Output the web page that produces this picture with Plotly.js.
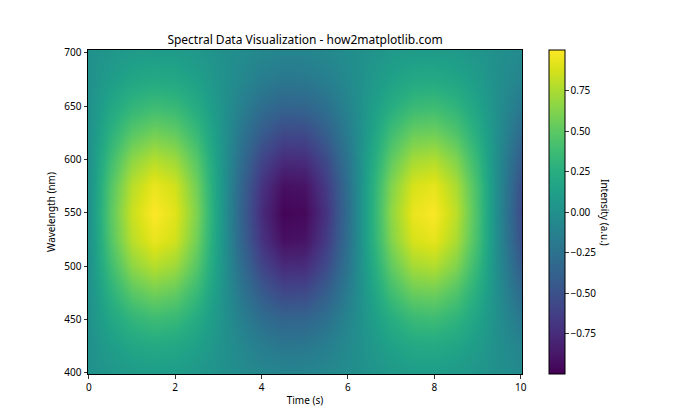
<!DOCTYPE html>
<html>
<head>
<meta charset="utf-8">
<script src="https://cdn.plot.ly/plotly-3.0.1.min.js"></script>
<style>html,body{margin:0;padding:0;background:#fff;}#chart{width:700px;height:420px;}</style>
</head>
<body>
<div id="chart"></div>
<script>
// Time (s) sample positions (cell centres)
const times = [0, 0.5, 1, 1.5, 2, 2.5, 3, 3.5, 4, 4.5, 5, 5.5, 6, 6.5, 7, 7.5, 8, 8.5, 9, 9.5, 10];
// Wavelength (nm) sample positions
const wavelengths = [400, 425, 450, 475, 500, 525, 550, 575, 600, 625, 650, 675, 700];
// Intensity (a.u.) rows, one per wavelength
const row400 = [0, 0.05, 0.09, 0.10, 0.10, 0.06, 0.01, -0.04, -0.08, -0.10, -0.10, -0.07, -0.03, 0.02, 0.07, 0.10, 0.10, 0.08, 0.04, -0.01, -0.06];
const row425 = [0, 0.10, 0.18, 0.21, 0.19, 0.13, 0.03, -0.07, -0.16, -0.21, -0.20, -0.15, -0.06, 0.05, 0.14, 0.20, 0.21, 0.17, 0.09, -0.02, -0.11];
const row450 = [0, 0.18, 0.31, 0.37, 0.34, 0.22, 0.05, -0.13, -0.28, -0.36, -0.35, -0.26, -0.10, 0.08, 0.24, 0.35, 0.37, 0.30, 0.15, -0.03, -0.20];
const row475 = [0, 0.27, 0.48, 0.57, 0.52, 0.34, 0.08, -0.20, -0.43, -0.56, -0.55, -0.40, -0.16, 0.12, 0.38, 0.54, 0.56, 0.45, 0.23, -0.04, -0.31];
const row500 = [0, 0.37, 0.66, 0.78, 0.71, 0.47, 0.11, -0.27, -0.59, -0.76, -0.75, -0.55, -0.22, 0.17, 0.51, 0.73, 0.77, 0.62, 0.32, -0.06, -0.42];
const row525 = [0, 0.45, 0.79, 0.94, 0.86, 0.56, 0.13, -0.33, -0.71, -0.92, -0.90, -0.66, -0.26, 0.21, 0.62, 0.88, 0.93, 0.75, 0.39, -0.07, -0.51];
const row550 = [0, 0.48, 0.84, 1.00, 0.91, 0.60, 0.14, -0.35, -0.76, -0.98, -0.96, -0.71, -0.28, 0.22, 0.66, 0.94, 0.99, 0.80, 0.41, -0.08, -0.54];
const row575 = [0, 0.45, 0.79, 0.94, 0.86, 0.56, 0.13, -0.33, -0.71, -0.92, -0.90, -0.66, -0.26, 0.21, 0.62, 0.88, 0.93, 0.75, 0.39, -0.07, -0.51];
const row600 = [0, 0.37, 0.66, 0.78, 0.71, 0.47, 0.11, -0.27, -0.59, -0.76, -0.75, -0.55, -0.22, 0.17, 0.51, 0.73, 0.77, 0.62, 0.32, -0.06, -0.42];
const row625 = [0, 0.27, 0.48, 0.57, 0.52, 0.34, 0.08, -0.20, -0.43, -0.56, -0.55, -0.40, -0.16, 0.12, 0.38, 0.54, 0.56, 0.45, 0.23, -0.04, -0.31];
const row650 = [0, 0.18, 0.31, 0.37, 0.34, 0.22, 0.05, -0.13, -0.28, -0.36, -0.35, -0.26, -0.10, 0.08, 0.24, 0.35, 0.37, 0.30, 0.15, -0.03, -0.20];
const row675 = [0, 0.10, 0.18, 0.21, 0.19, 0.13, 0.03, -0.07, -0.16, -0.21, -0.20, -0.15, -0.06, 0.05, 0.14, 0.20, 0.21, 0.17, 0.09, -0.02, -0.11];
const row700 = [0, 0.05, 0.09, 0.10, 0.10, 0.06, 0.01, -0.04, -0.08, -0.10, -0.10, -0.07, -0.03, 0.02, 0.07, 0.10, 0.10, 0.08, 0.04, -0.01, -0.06];
const intensity = [row400, row425, row450, row475, row500, row525, row550, row575, row600, row625, row650, row675, row700];

const xTicks = [0, 2, 4, 6, 8, 10];
const yTicks = [400, 450, 500, 550, 600, 650, 700];
const cbTicks = [-0.75, -0.5, -0.25, 0, 0.25, 0.5, 0.75];
const cbTickText = ['\u22120.75', '\u22120.50', '\u22120.25', '0.00', '0.25', '0.50', '0.75'];

const FONT = 'Noto Sans, DejaVu Sans, sans-serif';

const trace = {
  type: 'heatmap',
  x: times,
  y: wavelengths,
  z: intensity,
  colorscale: 'Viridis',
  zmin: -1,
  zmax: 1,
  zsmooth: 'best',
  hoverinfo: 'skip',
  colorbar: {
    x: (549 - 88) / 434,
    xanchor: 'left',
    xref: 'paper',
    y: 0.5,
    yanchor: 'middle',
    len: 1,
    lenmode: 'fraction',
    thickness: 16,
    thicknessmode: 'pixels',
    xpad: 0,
    ypad: 0,
    outlinewidth: 1,
    outlinecolor: '#000',
    ticks: 'outside',
    ticklen: 3.5,
    tickwidth: 0.8,
    tickcolor: '#000',
    tickvals: cbTicks,
    ticktext: cbTickText,
    tickfont: {family: FONT, size: 10, color: '#000'}
  }
};

const layout = {
  width: 700,
  height: 420,
  margin: {l: 88, r: 178, t: 50, b: 46},
  paper_bgcolor: '#fff',
  plot_bgcolor: '#fff',
  font: {family: FONT, size: 10, color: '#000'},
  title: {
    text: 'Spectral Data Visualization - how2matplotlib.com',
    font: {family: FONT, size: 12, color: '#000'},
    x: 0.5, xref: 'paper', xanchor: 'center',
    y: 1 - 40 / 420, yref: 'container', yanchor: 'middle'
  },
  xaxis: {
    range: [-0.02, 10.03],
    tickvals: xTicks,
    ticktext: xTicks.map(String),
    ticks: 'outside', ticklen: 3.5, tickwidth: 0.8, tickcolor: '#000',
    showline: true, linecolor: '#000', linewidth: 1, mirror: true,
    showgrid: false, zeroline: false,
    tickfont: {family: FONT, size: 10, color: '#000'},
    title: {text: 'Time (s)', font: {family: FONT, size: 10, color: '#000'}, standoff: 4},
    automargin: false
  },
  yaxis: {
    range: [398.8, 702.8],
    tickvals: yTicks,
    ticktext: yTicks.map(String),
    ticks: 'outside', ticklen: 3.5, tickwidth: 0.8, tickcolor: '#000',
    showline: true, linecolor: '#000', linewidth: 1, mirror: true,
    showgrid: false, zeroline: false,
    tickfont: {family: FONT, size: 10, color: '#000'},
    title: {text: 'Wavelength (nm)', font: {family: FONT, size: 10, color: '#000'}, standoff: 6},
    automargin: false
  },
  annotations: [{
    text: 'Intensity (a.u.)',
    xref: 'paper', yref: 'paper',
    x: (605 - 88) / 434, y: 0.5,
    xanchor: 'center', yanchor: 'middle',
    textangle: 90,
    showarrow: false,
    font: {family: FONT, size: 10, color: '#000'}
  }]
};

Plotly.newPlot('chart', [trace], layout, {displayModeBar: false, staticPlot: true});
</script>
</body>
</html>
